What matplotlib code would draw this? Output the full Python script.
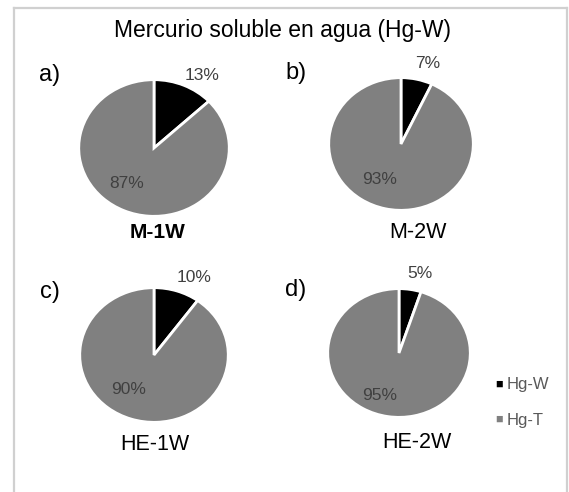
import matplotlib.pyplot as plt
from matplotlib.lines import Line2D

plt.rcParams['font.family'] = ['Liberation Sans', 'DejaVu Sans']

# data
title = 'Mercurio soluble en agua (Hg-W)'
series = ['Hg-W', 'Hg-T']
colors = ['#000000', '#808080']
panels = ['a)', 'b)', 'c)', 'd)']
samples = ['M-1W', 'M-2W', 'HE-1W', 'HE-2W']
hg_w = [13, 7, 10, 5]
hg_t = [87, 93, 90, 95]

W, H = 569, 492
fig = plt.figure(figsize=(W / 100, H / 100), dpi=100)


def fx(x):
    return x / W


def fy(y):
    return 1 - y / H


# pie placement in pixels: centre x, centre y, radius x, radius y
layout = [(154, 148, 76, 69), (401, 144, 73, 67),
          (154, 355, 75, 68), (399, 353, 72, 65)]
# text positions in pixels
panel_pos = [(50, 75), (296, 73), (50, 292), (296, 290)]
small_pos = [(202, 75), (428, 63), (194, 278), (420, 273)]
big_pos = [(127, 184), (380, 179), (129, 390), (380, 395)]
name_pos = [(158, 232), (418, 233), (155, 445), (417, 443)]

for i in range(4):
    cx, cy, rx, ry = layout[i]
    ax = fig.add_axes([fx(cx - rx), fy(cy + ry), 2 * rx / W, 2 * ry / H])
    ax.pie([hg_w[i], hg_t[i]], colors=colors, startangle=90, counterclock=False,
           wedgeprops=dict(edgecolor='white', linewidth=2))
    ax.set_aspect('auto')
    ax.set_xlim(-1.01, 1.01)
    ax.set_ylim(-1.01, 1.01)
    ax.axis('off')

    fig.text(fx(panel_pos[i][0]), fy(panel_pos[i][1]), panels[i],
             ha='center', va='center', fontsize=17, color='#000000')
    fig.text(fx(small_pos[i][0]), fy(small_pos[i][1]), f'{hg_w[i]}%',
             ha='center', va='center', fontsize=12.5, color='#404040')
    fig.text(fx(big_pos[i][0]), fy(big_pos[i][1]), f'{hg_t[i]}%',
             ha='center', va='center', fontsize=12.5, color='#404040')
    fig.text(fx(name_pos[i][0]), fy(name_pos[i][1]), samples[i],
             ha='center', va='center', color='#000000',
             fontsize=15 if i == 0 else 15.5,
             fontweight='bold' if i == 0 else 'normal')

fig.text(fx(283), fy(30), title, ha='center', va='center', fontsize=16.5,
         color='#000000')

# legend
leg_y = [385, 420]
for name, col, y in zip(series, colors, leg_y):
    fig.text(fx(499), fy(y), '\u25a0', ha='center', va='center', fontsize=9,
             color=col)
    fig.text(fx(507), fy(y), name, ha='left', va='center', fontsize=12,
             color='#595959')

# outer frame (open at the bottom)
frame = dict(color='#d0d0d0', linewidth=1.6, transform=fig.transFigure)
fig.add_artist(Line2D([fx(14), fx(14)], [0, fy(8)], **frame))
fig.add_artist(Line2D([fx(14), fx(567)], [fy(8), fy(8)], **frame))
fig.add_artist(Line2D([fx(567), fx(567)], [0, fy(8)], **frame))

fig.savefig('out.png', dpi=100)
plt.close(fig)
